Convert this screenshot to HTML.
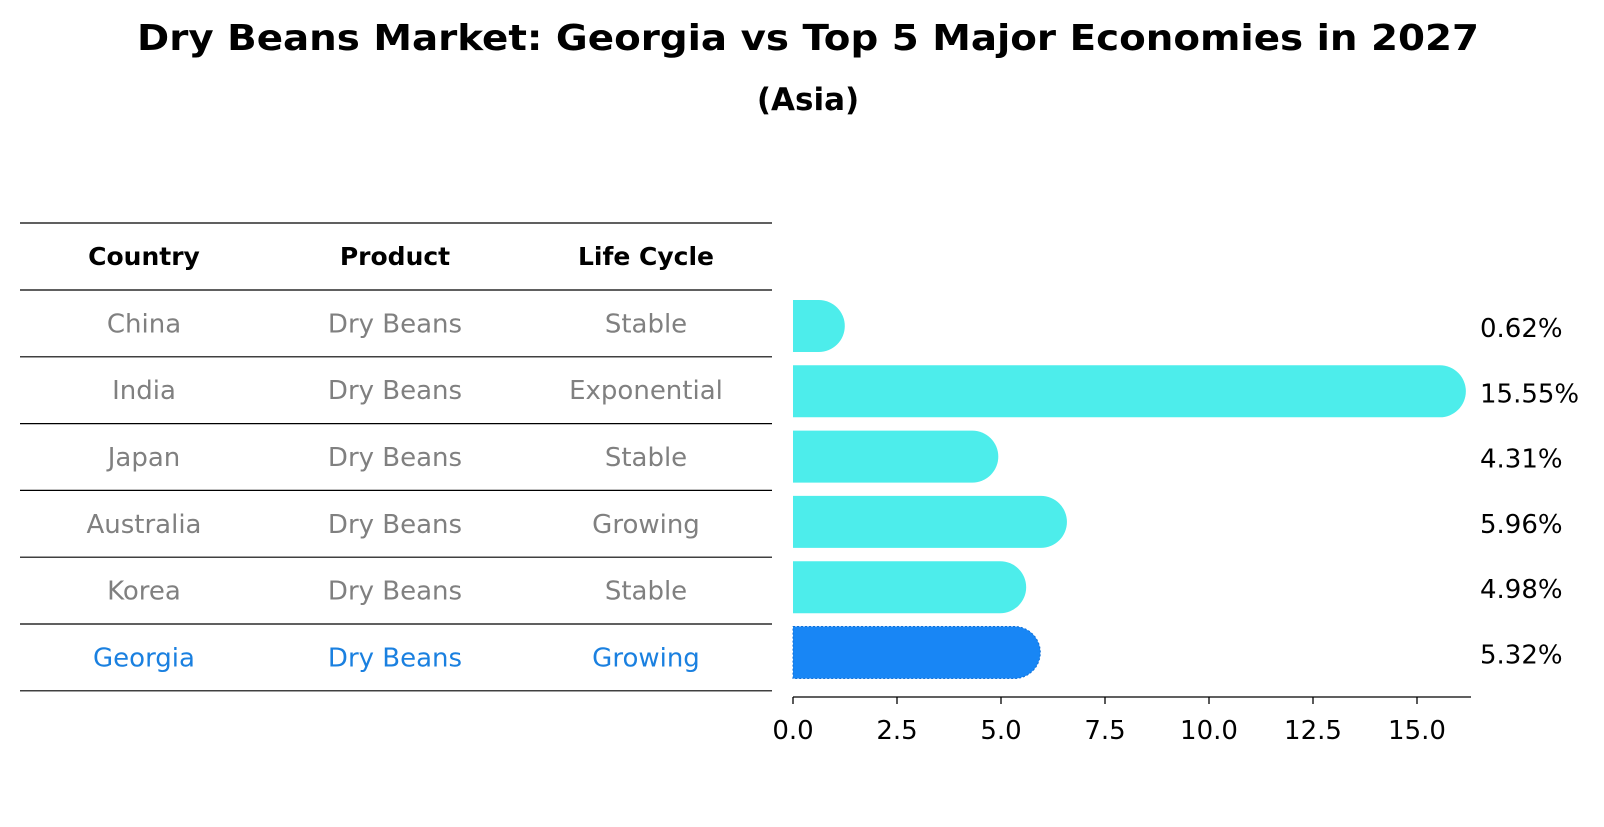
<!DOCTYPE html>
<html><head><meta charset="utf-8"><style>
body{margin:0;background:#fff;width:1604px;height:823px;overflow:hidden;font-family:"DejaVu Sans","Liberation Sans",sans-serif}
</style></head><body>
<svg width="1604" height="823" xmlns="http://www.w3.org/2000/svg" font-family="DejaVu Sans, Liberation Sans, sans-serif">
<text x="808" y="50" text-anchor="middle" font-size="36" font-weight="bold" textLength="1342" lengthAdjust="spacingAndGlyphs">Dry Beans Market: Georgia vs Top 5 Major Economies in 2027</text>
<text x="808" y="110" text-anchor="middle" font-size="31" font-weight="bold">(Asia)</text>
<g id="table"></g>
<g id="bars"></g>
<g id="axis"></g>
</svg>
<script>
const countries=["China","India","Japan","Australia","Korea","Georgia"];
const products=["Dry Beans","Dry Beans","Dry Beans","Dry Beans","Dry Beans","Dry Beans"];
const cycles=["Stable","Exponential","Stable","Growing","Stable","Growing"];
const values=[0.62,15.55,4.31,5.96,4.98,5.32];
const ticks=[0,2.5,5,7.5,10,12.5,15];
const NS="http://www.w3.org/2000/svg";
function mk(t,a,p){const e=document.createElementNS(NS,t);for(const k in a)e.setAttribute(k,a[k]);p.appendChild(e);return e;}
const X=v=>793+v*41.6;
const top0=290,pitch=66.8;
const barTop=326,barPitch=65.3;
const tb=document.getElementById('table'),bg=document.getElementById('bars'),ax=document.getElementById('axis');
const cols=[144,395,646];
let l=mk('line',{x1:20,x2:772,y1:223,y2:223,stroke:'#000','stroke-width':1.2},tb);


["Country","Product","Life Cycle"].forEach((h,i)=>{
 const t=mk('text',{x:cols[i],y:265,'text-anchor':'middle','font-size':25,'font-weight':'bold'},tb);t.textContent=h;
 
 
});
for(let i=0;i<countries.length;i++){
 const y0=top0+i*pitch;
 const ln=mk('line',{x1:20,x2:772,y1:y0,y2:y0,stroke:'#000','stroke-width':1.2},tb);
 
 
 const isG=countries[i]==="Georgia";
 const col=isG?'#1a80e0':'#808080';
 [countries[i],products[i],cycles[i]].forEach((s,j)=>{
  const t=mk('text',{x:cols[j],y:y0+pitch/2+9,'text-anchor':'middle','font-size':26,fill:col},tb);t.textContent=s;
  
  
 });
 const cy=barTop+i*barPitch,h=52,r=26;
 const xe=X(values[i]);
 const fill=isG?'#1886F5':'#4DEDEB';
 const p=mk('path',{d:`M${X(0)},${cy-h/2} L${xe},${cy-h/2} A${r},${r} 0 0 1 ${xe},${cy+h/2} L${X(0)},${cy+h/2} Z`,fill:fill},bg);
 if(isG){p.setAttribute('stroke','#1070d8');p.setAttribute('stroke-dasharray','2,2');p.setAttribute('stroke-width','1');}
 
 
 const vt=mk('text',{x:1480,y:cy+11,'font-size':26},bg);vt.textContent=values[i].toFixed(2)+'%';
 
 
}
const yb=top0+countries.length*pitch;
l=mk('line',{x1:20,x2:772,y1:yb,y2:yb,stroke:'#000','stroke-width':1.2},tb);


l=mk('line',{x1:793,x2:1471,y1:697,y2:697,stroke:'#000','stroke-width':1.3},ax);


ticks.forEach(v=>{
 const tk=mk('line',{x1:X(v),x2:X(v),y1:697,y2:704,stroke:'#000','stroke-width':1.3},ax);
 
 
 const t=mk('text',{x:X(v),y:739,'text-anchor':'middle','font-size':26},ax);t.textContent=v.toFixed(1);
 
 
});
</script>
</body></html>
